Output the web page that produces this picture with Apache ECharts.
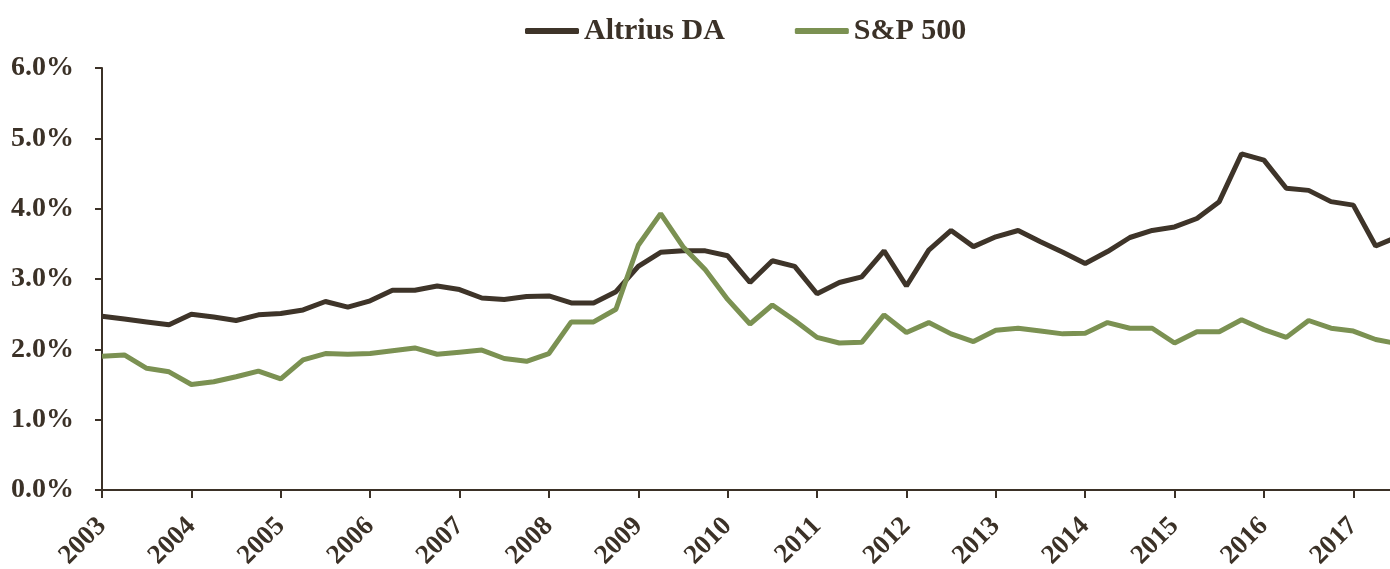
<!DOCTYPE html>
<html>
<head>
<meta charset="utf-8">
<script src="https://cdn.jsdelivr.net/npm/echarts@6/dist/echarts.min.js"></script>
<style>
  html, body { margin: 0; padding: 0; background: #ffffff; }
  #chart { width: 1390px; height: 569px; }
</style>
</head>
<body>
<div id="chart"></div>
<script>
// quarterly observations, 2003 Q1 .. 2017 Q3 (last one runs off the right edge)
const quarters = [
  '2003Q1', '2003Q2', '2003Q3', '2003Q4',
  '2004Q1', '2004Q2', '2004Q3', '2004Q4',
  '2005Q1', '2005Q2', '2005Q3', '2005Q4',
  '2006Q1', '2006Q2', '2006Q3', '2006Q4',
  '2007Q1', '2007Q2', '2007Q3', '2007Q4',
  '2008Q1', '2008Q2', '2008Q3', '2008Q4',
  '2009Q1', '2009Q2', '2009Q3', '2009Q4',
  '2010Q1', '2010Q2', '2010Q3', '2010Q4',
  '2011Q1', '2011Q2', '2011Q3', '2011Q4',
  '2012Q1', '2012Q2', '2012Q3', '2012Q4',
  '2013Q1', '2013Q2', '2013Q3', '2013Q4',
  '2014Q1', '2014Q2', '2014Q3', '2014Q4',
  '2015Q1', '2015Q2', '2015Q3', '2015Q4',
  '2016Q1', '2016Q2', '2016Q3', '2016Q4',
  '2017Q1', '2017Q2', '2017Q3'
];

// dividend yield, %
const altriusDA = [
  2.47, 2.43, 2.39, 2.35, 2.50, 2.46, 2.41, 2.49, 2.51, 2.56, 2.68, 2.60,
  2.69, 2.84, 2.84, 2.90, 2.85, 2.73, 2.71, 2.75, 2.76, 2.66, 2.66, 2.82,
  3.18, 3.38, 3.40, 3.40, 3.33, 2.95, 3.26, 3.18, 2.79, 2.95, 3.03, 3.40,
  2.90, 3.41, 3.69, 3.46, 3.60, 3.69, 3.53, 3.38, 3.22, 3.39, 3.59, 3.69,
  3.74, 3.86, 4.10, 4.78, 4.69, 4.29, 4.26, 4.10, 4.05, 3.47, 3.60
];

const sp500 = [
  1.90, 1.92, 1.73, 1.68, 1.50, 1.54, 1.61, 1.69, 1.58, 1.85, 1.94, 1.93,
  1.94, 1.98, 2.02, 1.93, 1.96, 1.99, 1.87, 1.83, 1.94, 2.39, 2.39, 2.57,
  3.48, 3.93, 3.46, 3.13, 2.71, 2.36, 2.63, 2.41, 2.17, 2.09, 2.10, 2.49,
  2.24, 2.38, 2.22, 2.11, 2.27, 2.30, 2.26, 2.22, 2.23, 2.38, 2.30, 2.30,
  2.09, 2.25, 2.25, 2.42, 2.28, 2.17, 2.41, 2.30, 2.26, 2.14, 2.08
];

const ink = '#3b3127';
const font = "'Liberation Serif', 'Times New Roman', serif";

const chart = echarts.init(document.getElementById('chart'));

chart.setOption({
  animation: false,
  textStyle: { fontFamily: font },
  legend: {
    top: 11,
    left: 520,
    icon: 'roundRect',
    itemWidth: 54,
    itemHeight: 6,
    itemGap: 70,
    textStyle: { fontFamily: font, fontSize: 30, fontWeight: 'bold', color: ink },
    data: ['Altrius DA', 'S&P 500']
  },
  grid: {
    left: 102,
    right: -8,
    top: 68,
    bottom: 79,
    containLabel: false,
    outerBoundsMode: 'none'
  },
  xAxis: {
    type: 'category',
    data: quarters,
    boundaryGap: false,
    axisLine: { lineStyle: { color: ink, width: 2 } },
    axisTick: { interval: 3, length: 8, lineStyle: { color: ink, width: 2 } },
    axisLabel: {
      interval: 3,
      rotate: 45,
      margin: 32,
      fontFamily: font,
      fontSize: 27,
      fontWeight: 'bold',
      color: ink,
      formatter: (v) => v.slice(0, 4)
    },
    splitLine: { show: false }
  },
  yAxis: {
    type: 'value',
    min: 0,
    max: 6,
    interval: 1,
    axisLine: { show: true, lineStyle: { color: ink, width: 2 } },
    axisTick: { show: true, length: 7, lineStyle: { color: ink, width: 2 } },
    axisLabel: {
      margin: 28,
      fontFamily: font,
      fontSize: 28,
      fontWeight: 'bold',
      color: ink,
      formatter: (v) => v.toFixed(1) + '%'
    },
    splitLine: { show: false }
  },
  series: [
    {
      name: 'Altrius DA',
      type: 'line',
      data: altriusDA,
      symbol: 'none',
      color: '#3e3429',
      lineStyle: { width: 5, color: '#3e3429' }
    },
    {
      name: 'S&P 500',
      type: 'line',
      data: sp500,
      symbol: 'none',
      color: '#7b9152',
      lineStyle: { width: 5, color: '#7b9152' }
    }
  ]
});
</script>
</body>
</html>
